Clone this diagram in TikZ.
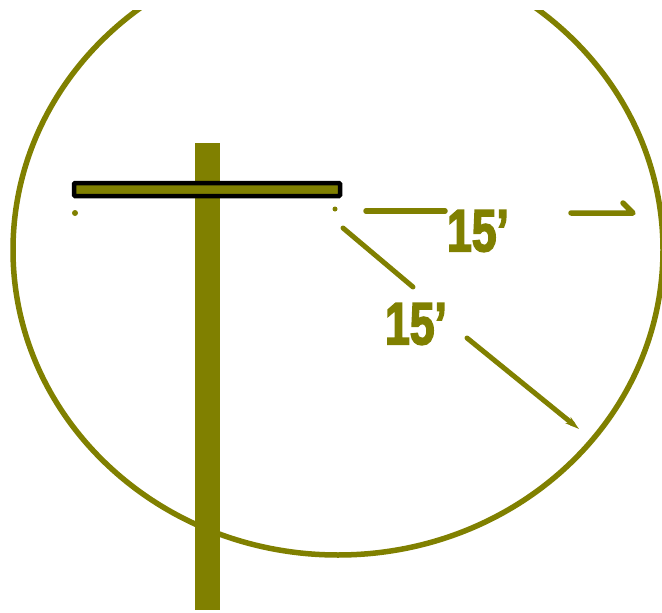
\documentclass[tikz,border=0pt]{standalone}
\usepackage{fontspec}
\setmainfont{Liberation Sans}
\newfontfamily\lblfont[FakeStretch=0.74,FakeBold=2.5]{Liberation Sans Bold}
\usetikzlibrary{arrows.meta}
\definecolor{olv}{RGB}{128,128,0}
\begin{document}
\begin{tikzpicture}[x=1pt,y=-1pt,
  olvline/.style={draw=olv, line width=5.5pt, line cap=round, line join=round},
  lbl/.style={text=olv, font=\fontsize{60}{60}\selectfont\lblfont, inner sep=0pt},
  armbox/.style={draw=black, line width=4.5pt, fill=olv, rounded corners=1pt},
  dotmark/.style={fill=olv}]
\useasboundingbox (0,0) rectangle (662,613);
\clip (0,10) rectangle (662,613);
% zone
\draw[olv, line width=5.5pt] (338,250) ellipse [x radius=325, y radius=305];
% pole
\fill[olv] (195,143) rectangle (220,610);
% crossarm
\draw[armbox] (74,183) rectangle (340,196);
% conductor points
\coordinate (lefttip) at (75,213);
\coordinate (righttip) at (335,209);
\fill[dotmark] (lefttip) circle (3);
\fill[dotmark] (righttip) circle (2.5);
% labels
\node[lbl] (h15) at (478,231) {15’};
\node[lbl] (d15) at (416,324) {15’};
% horizontal dimension
\coordinate (ha) at (366,211);
\coordinate (hb) at (445,211);
\coordinate (hc) at (571,213);
\coordinate (hd) at (633,213);
\coordinate (he) at (623,203);
\draw[olvline] (ha) -- (hb);
\draw[olvline] (hc) -- (hd) -- (he);
% diagonal dimension
\coordinate (da) at (343,228);
\coordinate (db) at (413,287);
\coordinate (dc) at (467,338);
\coordinate (dd) at (579,429);
\draw[olvline, line width=5pt] (da) -- (db);
\draw[olvline, line width=5pt, -{Stealth[length=14pt,width=8pt]}] (dc) -- (dd);
\end{tikzpicture}
\end{document}
